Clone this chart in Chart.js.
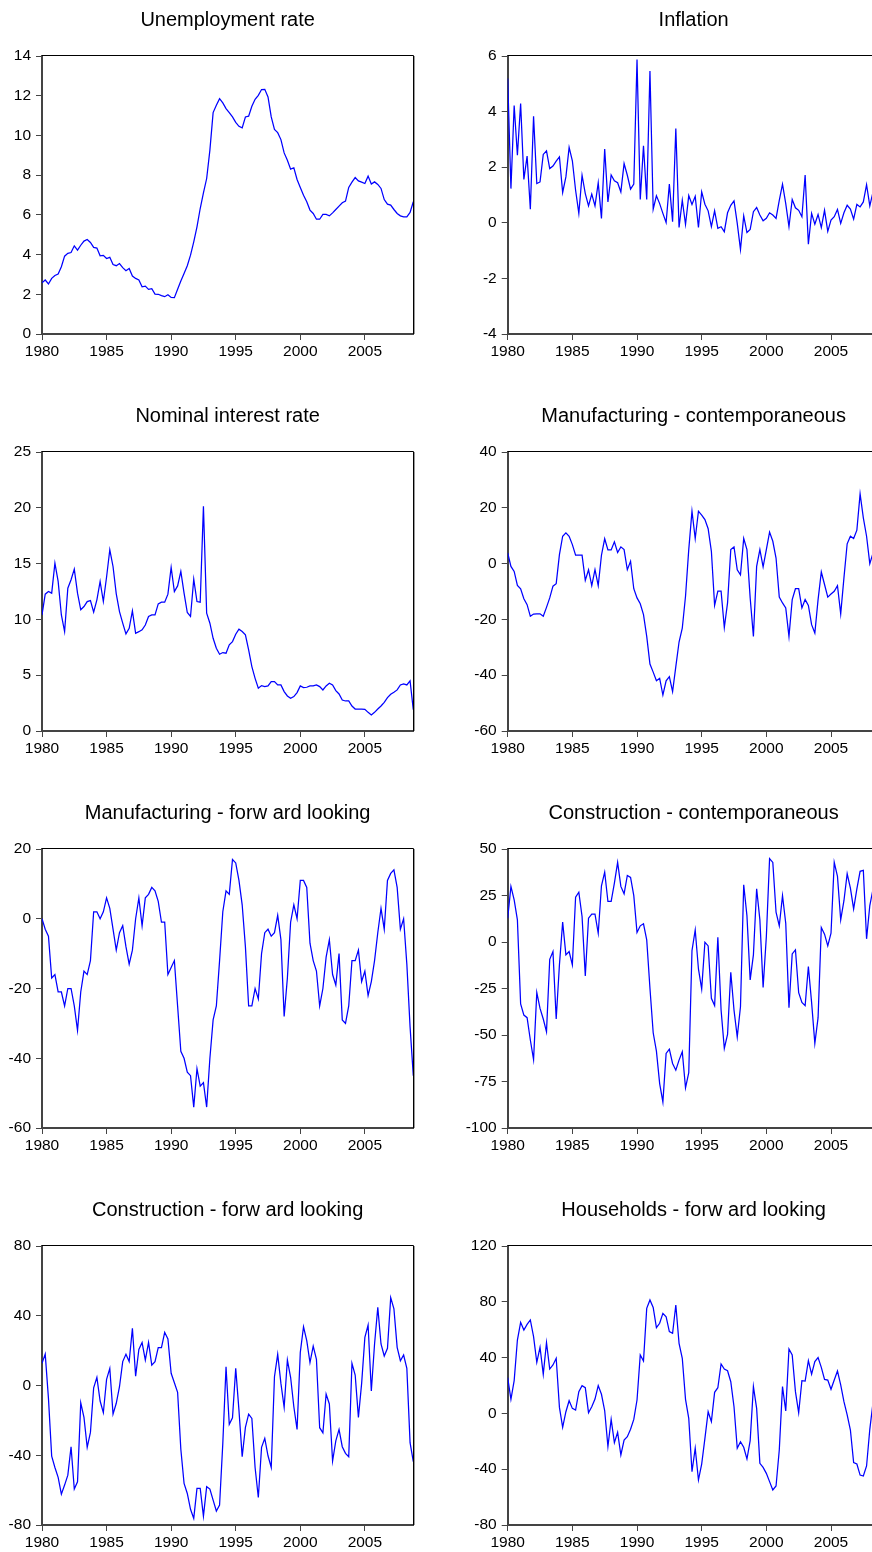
<!DOCTYPE html>
<html>
<head>
<meta charset="utf-8">
<script src="https://cdn.jsdelivr.net/npm/chart.js@4.4.1/dist/chart.umd.min.js"></script>
<style>
  html, body { margin: 0; padding: 0; background: #fff; }
  body { width: 872px; height: 1552px; overflow: hidden; position: relative; }
  canvas { position: absolute; }
</style>
</head>
<body>
<canvas id="p0"></canvas><canvas id="p1"></canvas>
<canvas id="p2"></canvas><canvas id="p3"></canvas>
<canvas id="p4"></canvas><canvas id="p5"></canvas>
<canvas id="p6"></canvas><canvas id="p7"></canvas>
<script>
// Quarterly observations, 1980Q1 - 2008Q4
const quarters = [];
for (let y = 1980; y <= 2008; y++) for (let q = 0; q < 4; q++) quarters.push(y + q / 4);

const yearTicks = [1980, 1985, 1990, 1995, 2000, 2005];

const unemployment = [
  2.58,2.72,2.52,2.8,2.95,3.02,3.39,3.92,4.06,4.1,
  4.44,4.22,4.47,4.68,4.76,4.61,4.36,4.33,3.94,3.96,
  3.8,3.86,3.5,3.44,3.55,3.34,3.19,3.3,2.92,2.8,
  2.72,2.38,2.41,2.25,2.28,2.01,2.0,1.93,1.88,1.98,
  1.84,1.83,2.25,2.67,3.05,3.44,3.97,4.64,5.4,6.32,
  7.11,7.83,9.26,11.15,11.52,11.85,11.64,11.35,11.15,10.93,
  10.66,10.46,10.38,10.93,10.97,11.47,11.82,12.02,12.31,12.32,
  11.94,10.93,10.3,10.14,9.79,9.12,8.75,8.3,8.37,7.78,
  7.38,6.99,6.66,6.24,6.07,5.78,5.78,6.02,6.02,5.95,
  6.1,6.27,6.44,6.61,6.69,7.38,7.65,7.88,7.71,7.65,
  7.58,7.95,7.55,7.66,7.53,7.33,6.77,6.54,6.49,6.27,
  6.07,5.95,5.9,5.9,6.12,6.66
];
const inflation = [
  5.19,1.23,4.22,2.43,4.29,1.56,2.40,0.49,3.83,1.41,
  1.47,2.46,2.59,1.95,2.04,2.22,2.37,1.09,1.65,2.71,
  2.23,1.17,0.34,1.71,1.05,0.61,1.03,0.61,1.44,0.16,
  2.65,0.75,1.72,1.51,1.44,1.11,2.13,1.71,1.21,1.39,
  5.87,0.84,2.77,0.84,5.46,0.49,0.97,0.69,0.34,0.01,
  1.39,0.04,3.39,-0.17,0.81,-0.06,0.98,0.66,0.95,-0.17,
  1.11,0.67,0.43,-0.14,0.43,-0.20,-0.14,-0.32,0.36,0.63,
  0.79,-0.02,-0.96,0.25,-0.35,-0.24,0.40,0.55,0.28,0.07,
  0.16,0.36,0.28,0.16,0.81,1.39,0.69,-0.14,0.84,0.54,
  0.45,0.22,1.72,-0.77,0.34,-0.05,0.30,-0.17,0.45,-0.31,
  0.10,0.22,0.48,-0.02,0.36,0.63,0.49,0.13,0.66,0.57,
  0.75,1.37,0.61,1.11,0.85,0.40
];
const interestRate = [
  10.4,12.26,12.5,12.35,15.04,13.4,10.4,8.91,12.8,13.55,
  14.5,12.35,10.86,11.15,11.6,11.69,10.65,11.75,13.4,11.6,
  13.8,16.24,14.74,12.29,10.7,9.66,8.7,9.2,10.77,8.76,
  8.9,9.06,9.5,10.26,10.4,10.4,11.39,11.54,11.54,12.26,
  14.65,12.5,13.0,14.3,12.35,10.62,10.26,13.6,11.6,11.54,
  20.13,10.56,9.66,8.31,7.42,6.88,7.03,6.97,7.72,8.01,
  8.67,9.12,8.91,8.61,7.27,5.77,4.72,3.83,4.07,3.98,
  4.04,4.43,4.43,4.13,4.13,3.53,3.14,2.93,3.08,3.44,
  4.04,3.89,3.92,4.04,4.04,4.13,3.98,3.68,4.04,4.28,
  4.13,3.62,3.32,2.78,2.69,2.69,2.24,1.97,1.97,1.97,
  1.94,1.67,1.44,1.67,1.97,2.24,2.57,2.99,3.29,3.47,
  3.68,4.13,4.22,4.13,4.49,1.9
];
const manufacturingNow = [
  3.8,-1,-2.8,-7.8,-9,-12.6,-14.7,-18.9,-18.1,-18,
  -18,-18.9,-15.7,-12.3,-8.1,-7.2,3.2,9.8,11,9.8,
  6.8,3,3,3,-6,-2.2,-7.9,-2.2,-7.9,3,
  8.9,4.9,4.9,7.8,4,6,5,-2.2,0.8,-9,
  -12.3,-14.4,-18.3,-26.1,-36,-38.9,-42,-41.1,-47.1,-42,
  -40.5,-45.9,-36.9,-28.1,-23.1,-11.7,5,18.8,9,18.8,
  17.4,15.8,12.5,4.4,-15,-9.9,-9.9,-22.9,-14.1,5,
  6,-2.2,-4,9,5,-12.3,-26.1,-1,5,-1.2,
  5,11.3,8,2,-12,-14.1,-15.9,-26.1,-12.9,-9,
  -9,-15.9,-12.9,-15,-21.9,-24.9,-12.9,-3,-7.5,-12,
  -10.9,-9.9,-7.9,-18,-5.1,7.1,9.8,9,12,25,
  16.4,9.8,0,3.8,1,-4
];
const manufacturingAhead = [
  0,-3,-5,-17,-16,-21,-21,-25,-20,-20,
  -25,-32,-21,-15,-16,-12,2,2,0,2,
  6,3,-3,-9,-4,-2,-8,-13,-9,0,
  6,-2,6,7,9,8,5,-1,-1,-16,
  -14,-12,-25,-38,-40,-44,-45,-54,-43,-48,
  -47,-54,-40,-29,-25,-12,2,8,7,17,
  16,11,4,-8,-25,-25,-20,-23,-10,-4,
  -3,-5,-4,1,-6,-28,-17,-1,4,0,
  11,11,9,-7,-12,-15,-25,-20,-11,-6,
  -16,-19,-10,-29,-30,-25,-12,-12,-9,-18,
  -15,-22,-18,-12,-4,3,-3,11,13,14,
  9,-3,0,-13,-31,-45
];
const constructionNow = [
  12.8,29.9,22.7,11.9,-33.3,-39.3,-40.7,-52.7,-63.2,-27.2,
  -35.7,-41.4,-48.3,-9.3,-5.1,-41.4,-12.3,10.7,-6.9,-5.1,
  -12.3,24.1,26.8,13.7,-18.3,12.8,15,15,4.7,30.2,
  37.6,21.8,21.8,31.7,42.8,29.9,25.9,35.8,34.7,24.9,
  5.1,8.7,9.8,1.1,-24.9,-48.8,-58.7,-76.1,-86,-59.9,
  -57.6,-65.3,-68.9,-63.5,-59,-78.4,-70.2,-4.6,6.5,-14.5,
  -25.3,-0.1,-2.1,-30.3,-34.2,2.6,-36.6,-57.2,-49.7,-16.3,
  -36.6,-51,-34.8,30.8,14.1,-20.4,-6.9,28.6,11.9,-24.4,
  2.9,44.8,42.8,16.1,8.7,24.9,10.1,-35.3,-6.4,-4.2,
  -27.2,-32.5,-34.2,-13.2,-32.5,-54.5,-40.7,7.8,4.2,-2.1,
  4.7,42.8,35.3,11.9,22.2,36.7,29,17.8,28.6,38,
  38.5,1.7,19.6,28.4,20,5
];
const constructionAhead = [
  12.7,18,-7.4,-40.5,-47,-52.7,-62.3,-57.1,-51.4,-35.1,
  -59.4,-55.2,-9.9,-18.3,-35.5,-26.9,-1.3,4.7,-8.9,-15.6,
  3.5,9.8,-16.4,-10.2,-0.7,13.7,17.9,13.7,32.8,5.4,
  20.7,24.6,14.6,24.7,11.7,13.7,21.7,21.7,30.5,26.7,
  7,1.6,-3.9,-36.6,-56.1,-61.9,-71,-76.2,-59,-59,
  -74.9,-58,-59.4,-65.7,-72,-68.6,-33.2,10.8,-22.3,-18.5,
  9.8,-14.1,-40.8,-24,-16.4,-18.9,-47,-64.2,-35.5,-30.3,
  -40.3,-47,5,17.9,1.2,-12.5,14.6,4.7,-12.2,-25.2,
  19,33.7,25.7,13.1,22.6,15,-24.2,-27.1,-4.9,-10.6,
  -43.3,-31.7,-25.2,-35.1,-38.9,-40.8,12.7,6,-18.3,1.2,
  27.6,34.7,-3.2,23.8,44.8,23.8,16.9,21.3,50.4,43.9,
  21.9,14.2,17.5,9.8,-32.8,-43.7
];
const householdsAhead = [
  25.6,10.1,23.5,52.6,65.3,59.8,63.8,67,55,36.6,
  47.4,28,50.7,31.8,34.7,39.5,4.3,-10,1.2,9.1,
  3.6,2.4,15.6,19.9,18.4,0.5,4.8,10.3,19.9,13.7,
  1.9,-23.8,-4.3,-21,-13.6,-29.8,-19.1,-16.7,-11.4,-4.3,
  9.6,41.9,37.6,75.3,81.3,76,61.5,64.6,71.7,69.3,
  58.6,57.4,77.7,50.2,39.5,10.1,-3.5,-41.8,-25,-47.7,
  -36.3,-17.9,1.2,-5.9,15.1,18.4,35.4,31.8,30.6,22.7,
  4.8,-25,-20.3,-24.3,-32.7,-19.5,19.2,3.6,-35.8,-38.7,
  -43,-48.9,-54.9,-52,-26.2,19.2,1.7,46.2,41.9,15.6,
  0.5,23.5,23.2,37.8,28.2,37.1,40,33,24.4,23.9,
  17.3,23.9,30.4,20.4,8.4,-1.1,-11.9,-35.3,-36.3,-44.2,
  -44.9,-37.7,-11.4,7.7,20,25
];

const unemploymentTicks = [0, 2, 4, 6, 8, 10, 12, 14];
const inflationTicks = [-4, -2, 0, 2, 4, 6];
const interestTicks = [0, 5, 10, 15, 20, 25];
const manufacturingNowTicks = [-60, -40, -20, 0, 20, 40];
const manufacturingAheadTicks = [-60, -40, -20, 0, 20];
const constructionNowTicks = [-100, -75, -50, -25, 0, 25, 50];
const constructionAheadTicks = [-80, -40, 0, 40, 80];
const householdsTicks = [-80, -40, 0, 40, 80, 120];

const panels = [
  { title: 'Unemployment rate', values: unemployment, ticks: unemploymentTicks },
  { title: 'Inflation', values: inflation, ticks: inflationTicks },
  { title: 'Nominal interest rate', values: interestRate, ticks: interestTicks },
  { title: 'Manufacturing - contemporaneous', values: manufacturingNow, ticks: manufacturingNowTicks },
  { title: 'Manufacturing - forw ard looking', values: manufacturingAhead, ticks: manufacturingAheadTicks },
  { title: 'Construction - contemporaneous', values: constructionNow, ticks: constructionNowTicks },
  { title: 'Construction - forw ard looking', values: constructionAhead, ticks: constructionAheadTicks },
  { title: 'Households - forw ard looking', values: householdsAhead, ticks: householdsTicks }
];

// ---- page geometry ----
const FONT = '"Liberation Sans", Arial, Helvetica, sans-serif';
const TOP_SPACE = 56;      // room above each plot for its title
const BOTTOM_SPACE = 40;   // room below each plot for the year labels
const rowPlotTop = [56, 452, 849, 1246];
const rowPlotBottom = [334, 731, 1128, 1525];
const columns = [
  { canvasLeft: 0,   canvasWidth: 436, plotLeft: 42,    plotRight: 413.3 },
  { canvasLeft: 436, canvasWidth: 470, plotLeft: 507.7, plotRight: 879.5 }
];
const AXIS_GREY = '#444';

const framePlugin = {
  id: 'frame',
  afterDraw(chart, args, opts) {
    const a = chart.chartArea;
    const ctx = chart.ctx;
    ctx.save();
    // top and right edges of the plot box
    ctx.lineWidth = 1;
    ctx.strokeStyle = '#000';
    ctx.beginPath();
    ctx.moveTo(a.left, Math.round(a.top) - 0.5);
    ctx.lineTo(Math.round(a.right) + 0.5, Math.round(a.top) - 0.5);
    ctx.lineTo(Math.round(a.right) + 0.5, a.bottom);
    ctx.stroke();
    ctx.strokeStyle = '#9a9a9a';
    ctx.beginPath();
    ctx.moveTo(Math.round(a.right) + 1.5, Math.round(a.top));
    ctx.lineTo(Math.round(a.right) + 1.5, a.bottom);
    ctx.stroke();
    // panel heading
    ctx.fillStyle = '#000';
    ctx.font = '20px ' + FONT;
    ctx.textAlign = 'center';
    ctx.textBaseline = 'alphabetic';
    ctx.fillText(opts.text, (a.left + a.right) / 2, a.top - 30);
    ctx.restore();
  }
};

panels.forEach((p, i) => {
  const col = columns[i % 2];
  const row = Math.floor(i / 2);
  const plotH = rowPlotBottom[row] - rowPlotTop[row];
  const w = col.canvasWidth;
  const h = plotH + TOP_SPACE + BOTTOM_SPACE;
  const canvas = document.getElementById('p' + i);
  canvas.width = w;
  canvas.height = h;
  canvas.style.width = w + 'px';
  canvas.style.height = h + 'px';
  canvas.style.left = col.canvasLeft + 'px';
  canvas.style.top = (rowPlotTop[row] - TOP_SPACE) + 'px';

  const yAxisWidth = col.plotLeft - col.canvasLeft;
  const padRight = col.canvasLeft + w - col.plotRight;

  const tickFont = { family: FONT, size: 15.5 };
  const gridStyle = { drawOnChartArea: false, drawTicks: true, tickLength: 6, color: AXIS_GREY, lineWidth: 1 };
  const borderStyle = { display: true, color: AXIS_GREY, width: 2 };

  new Chart(canvas, {
    type: 'line',
    data: {
      labels: quarters,
      datasets: [{
        data: p.values,
        borderColor: '#0000ff',
        borderWidth: 1.25,
        pointRadius: 0,
        tension: 0,
        fill: false
      }]
    },
    options: {
      responsive: false,
      animation: false,
      devicePixelRatio: 1,
      layout: { padding: { top: TOP_SPACE, left: 0, right: padRight, bottom: 0 } },
      plugins: {
        legend: { display: false },
        tooltip: { enabled: false },
        title: { display: false },
        frame: { text: p.title }
      },
      scales: {
        x: {
          type: 'linear',
          min: quarters[0],
          max: quarters[quarters.length - 1],
          afterBuildTicks: s => { s.ticks = yearTicks.map(v => ({ value: v })); },
          afterFit: s => { s.height = BOTTOM_SPACE; },
          ticks: { callback: v => String(v), color: '#000', font: tickFont, padding: 2, maxRotation: 0, autoSkip: false },
          grid: gridStyle,
          border: borderStyle
        },
        y: {
          min: p.ticks[0],
          max: p.ticks[p.ticks.length - 1],
          afterBuildTicks: s => { s.ticks = p.ticks.map(v => ({ value: v })); },
          afterFit: s => { s.width = yAxisWidth; },
          ticks: { callback: v => String(v), color: '#000', font: tickFont, padding: 5, autoSkip: false },
          grid: gridStyle,
          border: borderStyle
        }
      }
    },
    plugins: [framePlugin]
  });
});
</script>
</body>
</html>
